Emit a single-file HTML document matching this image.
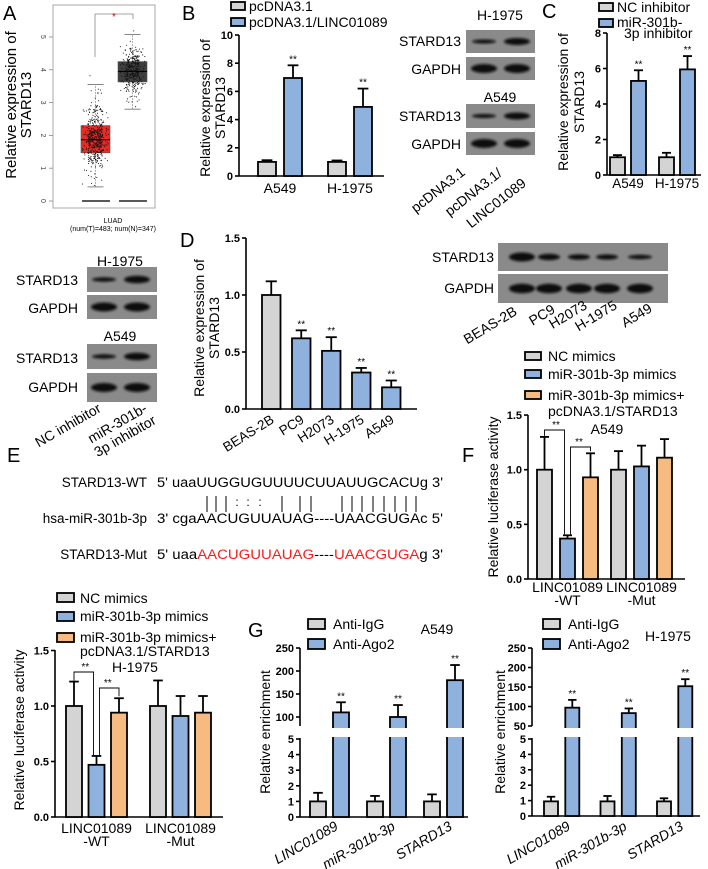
<!DOCTYPE html>
<html><head><meta charset="utf-8"><style>
html,body{margin:0;padding:0;background:#fff}
svg{display:block;font-family:"Liberation Sans",Arial,sans-serif}
.tk{font-size:11px;font-weight:bold}
.lab{font-size:14px}
.pl{font-size:20px}
</style></head><body>
<svg id="fig" width="708" height="869" viewBox="0 0 708 869" xmlns="http://www.w3.org/2000/svg">
<defs><filter id="bl" x="-20%" y="-50%" width="140%" height="200%"><feGaussianBlur stdDeviation="1.2"/></filter></defs>
<!-- panel letters -->
<text class="pl" x="3" y="20">A</text>
<text class="pl" x="182" y="20">B</text>
<text class="pl" x="542" y="18">C</text>
<text class="pl" x="180" y="247">D</text>
<text class="pl" x="7" y="462">E</text>
<text class="pl" x="462" y="462">F</text>
<text class="pl" x="248" y="637">G</text>

<!-- Panel A titles -->
<g font-size="15" text-anchor="middle">
<text transform="translate(16,105) rotate(-90)">Relative expression of</text>
<text transform="translate(31,105) rotate(-90)">STARD13</text></g>
<text x="113" y="223" font-size="7" text-anchor="middle">LUAD</text>
<text x="113" y="231" font-size="7" text-anchor="middle">(num(T)=483; num(N)=347)</text>

<!-- Panel B legend / title -->
<g font-size="14">
<rect x="231" y="2" width="14" height="8" fill="#d4d4d4" stroke="#000" stroke-width="1.8"/>
<text x="249" y="11">pcDNA3.1</text>
<rect x="231" y="18" width="14" height="8" fill="#8fb1dd" stroke="#000" stroke-width="1.8"/>
<text x="249" y="27">pcDNA3.1/LINC01089</text></g>
<g font-size="14" text-anchor="middle">
<text transform="translate(210,108) rotate(-90)">Relative expression of</text>
<text transform="translate(225,108) rotate(-90)">STARD13</text></g>

<!-- Panel C legend / title -->
<g font-size="14">
<rect x="599" y="3" width="14" height="8" fill="#d4d4d4" stroke="#000" stroke-width="1.8"/>
<text x="617" y="12">NC inhibitor</text>
<rect x="599" y="19" width="14" height="8" fill="#8fb1dd" stroke="#000" stroke-width="1.8"/>
<text x="617" y="27">miR-301b-</text>
<text x="624" y="38">3p inhibitor</text></g>
<g font-size="14" text-anchor="middle">
<text transform="translate(568,102) rotate(-90)">Relative expression of</text>
<text transform="translate(584,102) rotate(-90)">STARD13</text></g>

<!-- Panel D title -->
<g font-size="14" text-anchor="middle">
<text transform="translate(204,328) rotate(-90)">Relative expression of</text>
<text transform="translate(219,328) rotate(-90)">STARD13</text></g>

<!-- Panel E -->
<g font-size="13.5">
<text x="147" y="487" text-anchor="end">STARD13-WT</text>
<text x="157" y="487" textLength="286" lengthAdjust="spacingAndGlyphs">5' uaaUUGGUGUUUUCUUAUUGCACUg 3'</text>
<text x="147" y="523" text-anchor="end">hsa-miR-301b-3p</text>
<text x="157" y="523" textLength="286" lengthAdjust="spacingAndGlyphs">3' cgaAACUGUUAUAG----UAACGUGAc 5'</text>
<text x="147" y="559" text-anchor="end">STARD13-Mut</text>
<text x="157" y="559" textLength="286" lengthAdjust="spacingAndGlyphs">5' uaa<tspan fill="#ff1a1a">AACUGUUAUAG</tspan>----<tspan fill="#ff1a1a">UAACGUGA</tspan>g 3'</text>
</g>
<g id="pairs" stroke="#000" stroke-width="1"></g>

<!-- Panel F legend / titles -->
<g font-size="14">
<rect x="525" y="352" width="16" height="8" fill="#d4d4d4" stroke="#000" stroke-width="1.8"/>
<text x="548" y="361">NC mimics</text>
<rect x="525" y="370" width="16" height="8" fill="#8fb1dd" stroke="#000" stroke-width="1.8"/>
<text x="548" y="379">miR-301b-3p mimics</text>
<rect x="525" y="391" width="16" height="8" fill="#f5bb80" stroke="#000" stroke-width="1.8"/>
<text x="548" y="400">miR-301b-3p mimics+</text>
<text x="548" y="416">pcDNA3.1/STARD13</text></g>
<text x="607" y="434" font-size="14" text-anchor="middle">A549</text>
<text transform="translate(498,497) rotate(-90)" font-size="14" text-anchor="middle">Relative luciferase activity</text>

<!-- Panel F H-1975 -->
<g font-size="14">
<rect x="57" y="593" width="17" height="9" fill="#d4d4d4" stroke="#000" stroke-width="1.8"/>
<text x="80" y="603">NC mimics</text>
<rect x="57" y="612" width="17" height="9" fill="#8fb1dd" stroke="#000" stroke-width="1.8"/>
<text x="80" y="621">miR-301b-3p mimics</text>
<rect x="57" y="633" width="17" height="9" fill="#f5bb80" stroke="#000" stroke-width="1.8"/>
<text x="80" y="642">miR-301b-3p mimics+</text>
<text x="80" y="656">pcDNA3.1/STARD13</text></g>
<text x="135" y="672" font-size="14" text-anchor="middle">H-1975</text>
<text transform="translate(24,730) rotate(-90)" font-size="14" text-anchor="middle">Relative luciferase activity</text>

<!-- Panel G legends/titles -->
<g font-size="14">
<rect x="308" y="619" width="17" height="10" fill="#d4d4d4" stroke="#000" stroke-width="1.8"/>
<text x="333" y="629">Anti-IgG</text>
<rect x="308" y="639" width="17" height="10" fill="#8fb1dd" stroke="#000" stroke-width="1.8"/>
<text x="333" y="649">Anti-Ago2</text>
<rect x="543" y="619" width="17" height="10" fill="#d4d4d4" stroke="#000" stroke-width="1.8"/>
<text x="568" y="629">Anti-IgG</text>
<rect x="543" y="639" width="17" height="10" fill="#8fb1dd" stroke="#000" stroke-width="1.8"/>
<text x="568" y="649">Anti-Ago2</text></g>
<text x="437" y="634" font-size="14" text-anchor="middle">A549</text>
<text x="668" y="641" font-size="14" text-anchor="middle">H-1975</text>
<text transform="translate(270,732) rotate(-90)" font-size="14" text-anchor="middle">Relative enrichment</text>
<text transform="translate(505,732) rotate(-90)" font-size="14" text-anchor="middle">Relative enrichment</text>

<g id="root"></g>
</svg>
<script>
// ---------- data ----------
const aGroups=["Tumor","Normal"];
const aTumorStats=[0.43,1.47,1.87,2.3,3.55];
const aNormalStats=[2.8,3.63,3.95,4.25,5.08];
const aTicks=[0,1,2,3,4,5];

const bCats=["A549","H-1975"];
const bCtrl=[1,1];
const bCtrlErr=[0.12,0.1];
const bTreat=[6.95,4.9];
const bTreatErr=[0.9,1.3];
const bTicks=[0,2,4,6,8,10];

const cCats=["A549","H-1975"];
const cCtrl=[1,1];
const cCtrlErr=[0.12,0.25];
const cTreat=[5.3,5.95];
const cTreatErr=[0.6,0.75];
const cTicks=[0,2,4,6,8];

const dCats=["BEAS-2B","PC9","H2073","H-1975","A549"];
const dVals=[1,0.62,0.51,0.32,0.19];
const dErr=[0.12,0.07,0.12,0.04,0.06];
const dTicks=[0,0.5,1.0,1.5];

const fCats=["LINC01089|-WT","LINC01089|-Mut"];
const fNC=[1,1];
const fNCErr=[0.3,0.17];
const fMim=[0.37,1.03];
const fMimErr=[0.03,0.19];
const fRes=[0.93,1.11];
const fResErr=[0.22,0.17];
const fTicks=[0,0.5,1.0,1.5];

const hNC=[1,1];
const hNCErr=[0.22,0.23];
const hMim=[0.47,0.91];
const hMimErr=[0.08,0.18];
const hRes=[0.94,0.94];
const hResErr=[0.13,0.15];

const gCats=["LINC01089","miR-301b-3p","STARD13"];
const gIgG=[1,1,1];
const gIgGErr=[0.55,0.35,0.45];
const gAgo=[110,100,180];
const gAgoErr=[22,26,33];
const g2IgG=[0.95,0.95,0.95];
const g2IgGErr=[0.3,0.35,0.2];
const g2Ago=[97,83,152];
const g2AgoErr=[20,12,18];
const gLowTicks=[0,1,2,3,4,5];
const gUpTicks=[100,150,200,250];
const g2UpTicks=[50,100,150,200,250];

// ---------- helpers ----------
const NS="http://www.w3.org/2000/svg";
const root=document.getElementById('root');
function mk(tag,attrs,parent){const e=document.createElementNS(NS,tag);for(const k in attrs)e.setAttribute(k,attrs[k]);(parent||root).appendChild(e);return e;}
const GREY="#d4d4d4",BLUE="#8fb1dd",ORANGE="#f5bb80";

function yAxis(x,scale,ticks,yTop,yBot,fmt,name){
  const g=mk('g',{});
  
  
  mk('line',{x1:x,y1:yTop,x2:x,y2:yBot,stroke:'#000','stroke-width':1.6},g);
  ticks.forEach(t=>{
    const y=scale(t);
    mk('line',{x1:x-4,y1:y,x2:x,y2:y,stroke:'#000','stroke-width':1.6},g);
    const tx=mk('text',{x:x-6,y:y+4,'text-anchor':'end','class':'tk'},g);
    tx.textContent=fmt?fmt(t):t;
  });
}
function xAxis(y,x1,x2,name){
  const l=mk('line',{x1:x1,y1:y,x2:x2,y2:y,stroke:'#000','stroke-width':1.6});
  
  
}
function bar(x,w,v,err,color,scale,name,stars,zeroY){
  const g=mk('g',{});
  
  
  const top=scale(v),base=zeroY!==undefined?zeroY:scale(0);
  const et=scale(v+err);
  mk('line',{x1:x+w/2,y1:top,x2:x+w/2,y2:et,stroke:'#000','stroke-width':1.8},g);
  mk('line',{x1:x+w/2-w*0.3,y1:et,x2:x+w/2+w*0.3,y2:et,stroke:'#000','stroke-width':1.8},g);
  mk('rect',{x:x,y:top,width:w,height:base-top,fill:color,stroke:'#000','stroke-width':1.8},g);
  if(stars){const s=mk('text',{x:x+w/2,y:et-3,'text-anchor':'middle','font-size':10},g);s.textContent='**';}
  return g;
}

// ---------- Panel A boxplot ----------
(function(){
  const sA=v=>201-v*32.8;
  const fr=mk('rect',{x:53,y:5,width:102,height:203,fill:'none',stroke:'#aaa','stroke-width':1});
  
  
  aTicks.forEach(t=>{
    const y=sA(t);
    mk('line',{x1:49,y1:y,x2:53,y2:y,stroke:'#888','stroke-width':0.8});
    const tx=mk('text',{transform:`translate(41,${y}) rotate(90)`,'text-anchor':'middle','font-size':7,fill:'#444'});
    
    
    tx.textContent=t;
  });
  let seed=7;function rnd(){seed=(seed*16807)%2147483647;return seed/2147483647;}
  function gauss(){return Math.sqrt(-2*Math.log(rnd()+1e-9))*Math.cos(2*Math.PI*rnd());}
  const boxes=[{st:aTumorStats,x:81,w:29,fill:'#ec2a24',n:483,sd:0.5},{st:aNormalStats,x:118,w:29,fill:'#3f3f3f',n:347,sd:0.38}];
  boxes.forEach((b,i)=>{
    const g=mk('g',{});
    
    
    const cx=b.x+b.w/2;
    mk('line',{x1:cx,y1:sA(b.st[0]),x2:cx,y2:sA(b.st[4]),stroke:'#999','stroke-width':0.8,'stroke-dasharray':'2,1'},g);
    mk('line',{x1:cx-8,y1:sA(b.st[0]),x2:cx+8,y2:sA(b.st[0]),stroke:'#666','stroke-width':0.8},g);
    mk('line',{x1:cx-8,y1:sA(b.st[4]),x2:cx+8,y2:sA(b.st[4]),stroke:'#666','stroke-width':0.8},g);
    mk('rect',{x:b.x,y:sA(b.st[3]),width:b.w,height:sA(b.st[1])-sA(b.st[3]),fill:b.fill,stroke:'#555','stroke-width':0.6},g);
    mk('line',{x1:b.x,y1:sA(b.st[2]),x2:b.x+b.w,y2:sA(b.st[2]),stroke:'#000','stroke-width':1.2},g);
    mk('line',{x1:b.x+1,y1:sA(0),x2:b.x+b.w,y2:sA(0),stroke:'#222','stroke-width':1.6},g);
    for(let k=0;k<b.n;k++){
      let v=b.st[2]+gauss()*b.sd;
      if(v<b.st[0]-0.2)v=b.st[0]+rnd()*0.3;
      if(v>b.st[4]+0.3)v=b.st[4]-rnd()*0.3;
      const dx=(rnd()-0.5)*(k%4===0?b.w*0.9:b.w*0.5);
      mk('circle',{cx:cx+dx,cy:sA(v),r:0.55,fill:'#111'},g);
    }
  });
  const br=mk('path',{d:'M95 57 V14 H133 V19',fill:'none',stroke:'#888','stroke-width':0.8});
  
  
  const st=mk('text',{x:114,y:20,'text-anchor':'middle','font-size':10,fill:'#e01010'});
  
  
  st.textContent='*';
})();

// ---------- Panel B ----------
(function(){
  const s=v=>176-v*14.1;
  yAxis(239,s,bTicks,35,176,null,'panel-b-y-axis');
  xAxis(176,239,384,'panel-b-x-axis');
  bCats.forEach((c,i)=>{
    const gx=258+i*70;
    bar(gx,18,bCtrl[i],bCtrlErr[i],GREY,s,'bar-b-ctrl-'+c);
    bar(gx+26,18,bTreat[i],bTreatErr[i],BLUE,s,'bar-b-linc-'+c,true);
    const t=mk('text',{x:gx+22,y:193,'text-anchor':'middle','class':'lab'});
    
    
    t.textContent=c;
  });
})();

// ---------- Panel C ----------
(function(){
  const s=v=>175-v*17.75;
  yAxis(607,s,cTicks,33,175,null,'panel-c-y-axis');
  xAxis(175,607,701,'panel-c-x-axis');
  cCats.forEach((c,i)=>{
    const gx=610+i*49;
    bar(gx,15,cCtrl[i],cCtrlErr[i],GREY,s,'bar-c-ctrl-'+c);
    bar(gx+21,15,cTreat[i],cTreatErr[i],BLUE,s,'bar-c-inh-'+c,true);
    const t=mk('text',{x:gx+18,y:188,'text-anchor':'middle','font-size':13.5});
    
    
    t.textContent=c;
  });
})();

// ---------- Panel D ----------
(function(){
  const s=v=>409-v*114;
  yAxis(246,s,dTicks,238,409,v=>v.toFixed(1),'panel-d-y-axis');
  xAxis(409,246,417,'panel-d-x-axis');
  dCats.forEach((c,i)=>{
    const x=262+i*30;
    bar(x,18.5,dVals[i],dErr[i],i===0?GREY:BLUE,s,'bar-d-'+c,i>0);
    const t=mk('text',{transform:`translate(${x+13},422) rotate(-32)`,'text-anchor':'end','font-size':13.5});
    
    
    t.textContent=c;
  });
})();

// ---------- Panel F (A549) ----------
function lucChart(x0,zeroY,k,xStart,step,inner,w,axisEnd,topY,nc,ncE,mi,miE,re,reE,lblY,tag,br1Y,br2Y){
  const s=v=>zeroY-v*k;
  yAxis(x0,s,fTicks,topY,zeroY,v=>v.toFixed(1),tag+'-y-axis');
  xAxis(zeroY,x0,axisEnd,tag+'-x-axis');
  fCats.forEach((c,i)=>{
    const gx=xStart+i*step;
    bar(gx,w,nc[i],ncE[i],GREY,s,tag+'-bar-nc-'+i);
    bar(gx+inner,w,mi[i],miE[i],BLUE,s,tag+'-bar-mimics-'+i);
    bar(gx+2*inner,w,re[i],reE[i],ORANGE,s,tag+'-bar-rescue-'+i);
    const parts=c.split('|');
    parts.forEach((p,j)=>{
      const t=mk('text',{x:gx+inner+w/2,y:lblY+j*13,'text-anchor':'middle','font-size':14});
      
      
      t.textContent=p;
    });
  });
  const c1=xStart+w/2,c2=xStart+inner+w/2,c3=xStart+2*inner+w/2;
  const b=mk('path',{d:`M${c1} ${s(nc[0]+ncE[0])-1} V${br1Y} H${c2-3} V${s(mi[0]+miE[0])-1} M${c2+3} ${s(mi[0]+miE[0])-1} V${br2Y} H${c3} V${s(re[0]+reE[0])-2}`,fill:'none',stroke:'#000','stroke-width':0.9});
  
  
  const t1=mk('text',{x:(c1+c2)/2,y:br1Y-2,'text-anchor':'middle','font-size':10});
  
  
  t1.textContent='**';
  const t2=mk('text',{x:(c2+c3)/2,y:br2Y-2,'text-anchor':'middle','font-size':10});
  
  
  t2.textContent='**';
}
lucChart(528,579,109.3,537,74,23,15,685,415,fNC,fNCErr,fMim,fMimErr,fRes,fResErr,592,'f-a549',430,447);
lucChart(55,817,111,66,84,22.5,16,223,650,hNC,hNCErr,hMim,hMimErr,hRes,hResErr,833,'f-h1975',672,688);

// ---------- Panel G ----------
function ripChart(x0,lowZero,lowK,upTop,upK,breakY,upTicks,xStart,step,inner,w,axisEnd,igg,iggE,ago,agoE,tag){
  const s=v=>v<=5?lowZero-v*lowK:upTop+(250-v)*upK;
  yAxis(x0,s,gLowTicks,lowZero-5*lowK-1,lowZero,null,tag+'-y-axis-lower');
  yAxis(x0,s,upTicks,upTop,breakY,null,tag+'-y-axis-upper');
  xAxis(lowZero,x0,axisEnd,tag+'-x-axis');
  gCats.forEach((c,i)=>{
    const gx=xStart+i*step;
    bar(gx,w,igg[i],iggE[i],GREY,s,tag+'-bar-igg-'+c);
    bar(gx+inner,w,ago[i],agoE[i],BLUE,s,tag+'-bar-ago2-'+c,true,lowZero);
    const gap=mk('rect',{x:gx+inner-2,y:breakY+2,width:w+4,height:lowZero-5*lowK-breakY-4,fill:'#fff'});
    
    
    const t=mk('text',{transform:`translate(${gx+inner+6},829) rotate(-30)`,'text-anchor':'end','font-size':14,'font-style':'italic'});
    
    
    t.textContent=c;
  });
}
ripChart(300,817,15.6,648,0.46,726,gUpTicks,310,57,23,16,468,gIgG,gIgGErr,gAgo,gAgoErr,'g-a549');
ripChart(532,816,15.4,648,0.39,726,g2UpTicks,544,56.5,21.3,14,700,g2IgG,g2IgGErr,g2Ago,g2AgoErr,'g-h1975');

// ---------- Western blots ----------
function blot(x,y,w,h,bands,name){
  const g=mk('g',{});
  
  
  mk('rect',{x:x,y:y,width:w,height:h,fill:'#8a8a8a'},g);
  bands.forEach(b=>mk('ellipse',{cx:b[0],cy:y+h/2,rx:b[1],ry:b[2],fill:'#111',filter:'url(#bl)'},g));
}
function lbl(x,y,txt,name,anchor,size){
  const t=mk('text',{x:x,y:y,'text-anchor':anchor||'end','font-size':size||14});
  
  
  t.textContent=txt;
}
function rlbl(x,y,ang,txt,name,size){
  const t=mk('text',{transform:`translate(${x},${y}) rotate(${ang})`,'text-anchor':'end','font-size':size||14});
  
  
  t.textContent=txt;
}
// B blots
lbl(500,20,'H-1975','blot-b-h1975-title','middle');
blot(466,30,69,23,[[484,12,2],[517,13,3.5]],'blot-b-h1975-stard13');
blot(466,57,69,23,[[484,13,4.5],[517,13,4.5]],'blot-b-h1975-gapdh');
lbl(500,102,'A549','blot-b-a549-title','middle');
blot(466,104,69,24,[[484,12,2],[517,13,3.5]],'blot-b-a549-stard13');
blot(466,132,69,23,[[484,13,4.5],[517,13,4.5]],'blot-b-a549-gapdh');
lbl(461,46,'STARD13','blot-b-label');lbl(461,74,'GAPDH','blot-b-label');
lbl(461,121,'STARD13','blot-b-label');lbl(461,149,'GAPDH','blot-b-label');
rlbl(466,174,-38,'pcDNA3.1','blot-b-lane-label');
rlbl(503,175,-38,'pcDNA3.1/','blot-b-lane-label');
rlbl(527,185,-38,'LINC01089','blot-b-lane-label');
// C blots
lbl(120,266,'H-1975','blot-c-h1975-title','middle');
blot(87,267,70,25,[[104,12,2.2],[137,13,3.8]],'blot-c-h1975-stard13');
blot(87,295,70,24,[[104,13,4.5],[137,13,4.5]],'blot-c-h1975-gapdh');
lbl(120,341,'A549','blot-c-a549-title','middle');
blot(87,344,70,25,[[104,12,2.2],[137,13,3.8]],'blot-c-a549-stard13');
blot(87,373,70,29,[[104,13,4.5],[137,13,4.5]],'blot-c-a549-gapdh');
lbl(78,285,'STARD13','blot-c-label');lbl(78,313,'GAPDH','blot-c-label');
lbl(78,363,'STARD13','blot-c-label');lbl(78,392,'GAPDH','blot-c-label');
rlbl(102,411,-30,'NC inhibitor','blot-c-lane-label');
rlbl(148,411,-30,'miR-301b-','blot-c-lane-label');
rlbl(157,423,-30,'3p inhibitor','blot-c-lane-label');
// D blots
blot(498,243,170,28,[[522,13,4.5],[549,11,3.2],[579,11,2.8],[607,11,2.6],[640,12,2.2]],'blot-d-stard13');
blot(498,274,170,29,[[522,13,4.8],[549,13,4.8],[579,13,4.8],[607,13,4.8],[640,13,4.8]],'blot-d-gapdh');
lbl(494,262,'STARD13','blot-d-label');lbl(494,293,'GAPDH','blot-d-label');
const dEnds=[[518,314],[556,312],[588,308],[618,308],[653,311]];
dCats.forEach((c,i)=>rlbl(dEnds[i][0],dEnds[i][1],-31,c,'blot-d-lane-label'));

// ---------- Panel E base pairing ----------
(function(){
  const pg=document.getElementById('pairs');
  [207,216,226,282,300,311,342,352,362,373,384,395,406,416].forEach(x=>{
    const l=mk('line',{x1:x,y1:496,x2:x,y2:512},pg);
    
  });
  [237,248,260].forEach(x=>{
    const t=mk('text',{x:x,y:506,'text-anchor':'middle','font-size':12,stroke:'none'},pg);
    
    t.textContent=':';
  });
})();
</script>
</body></html>
